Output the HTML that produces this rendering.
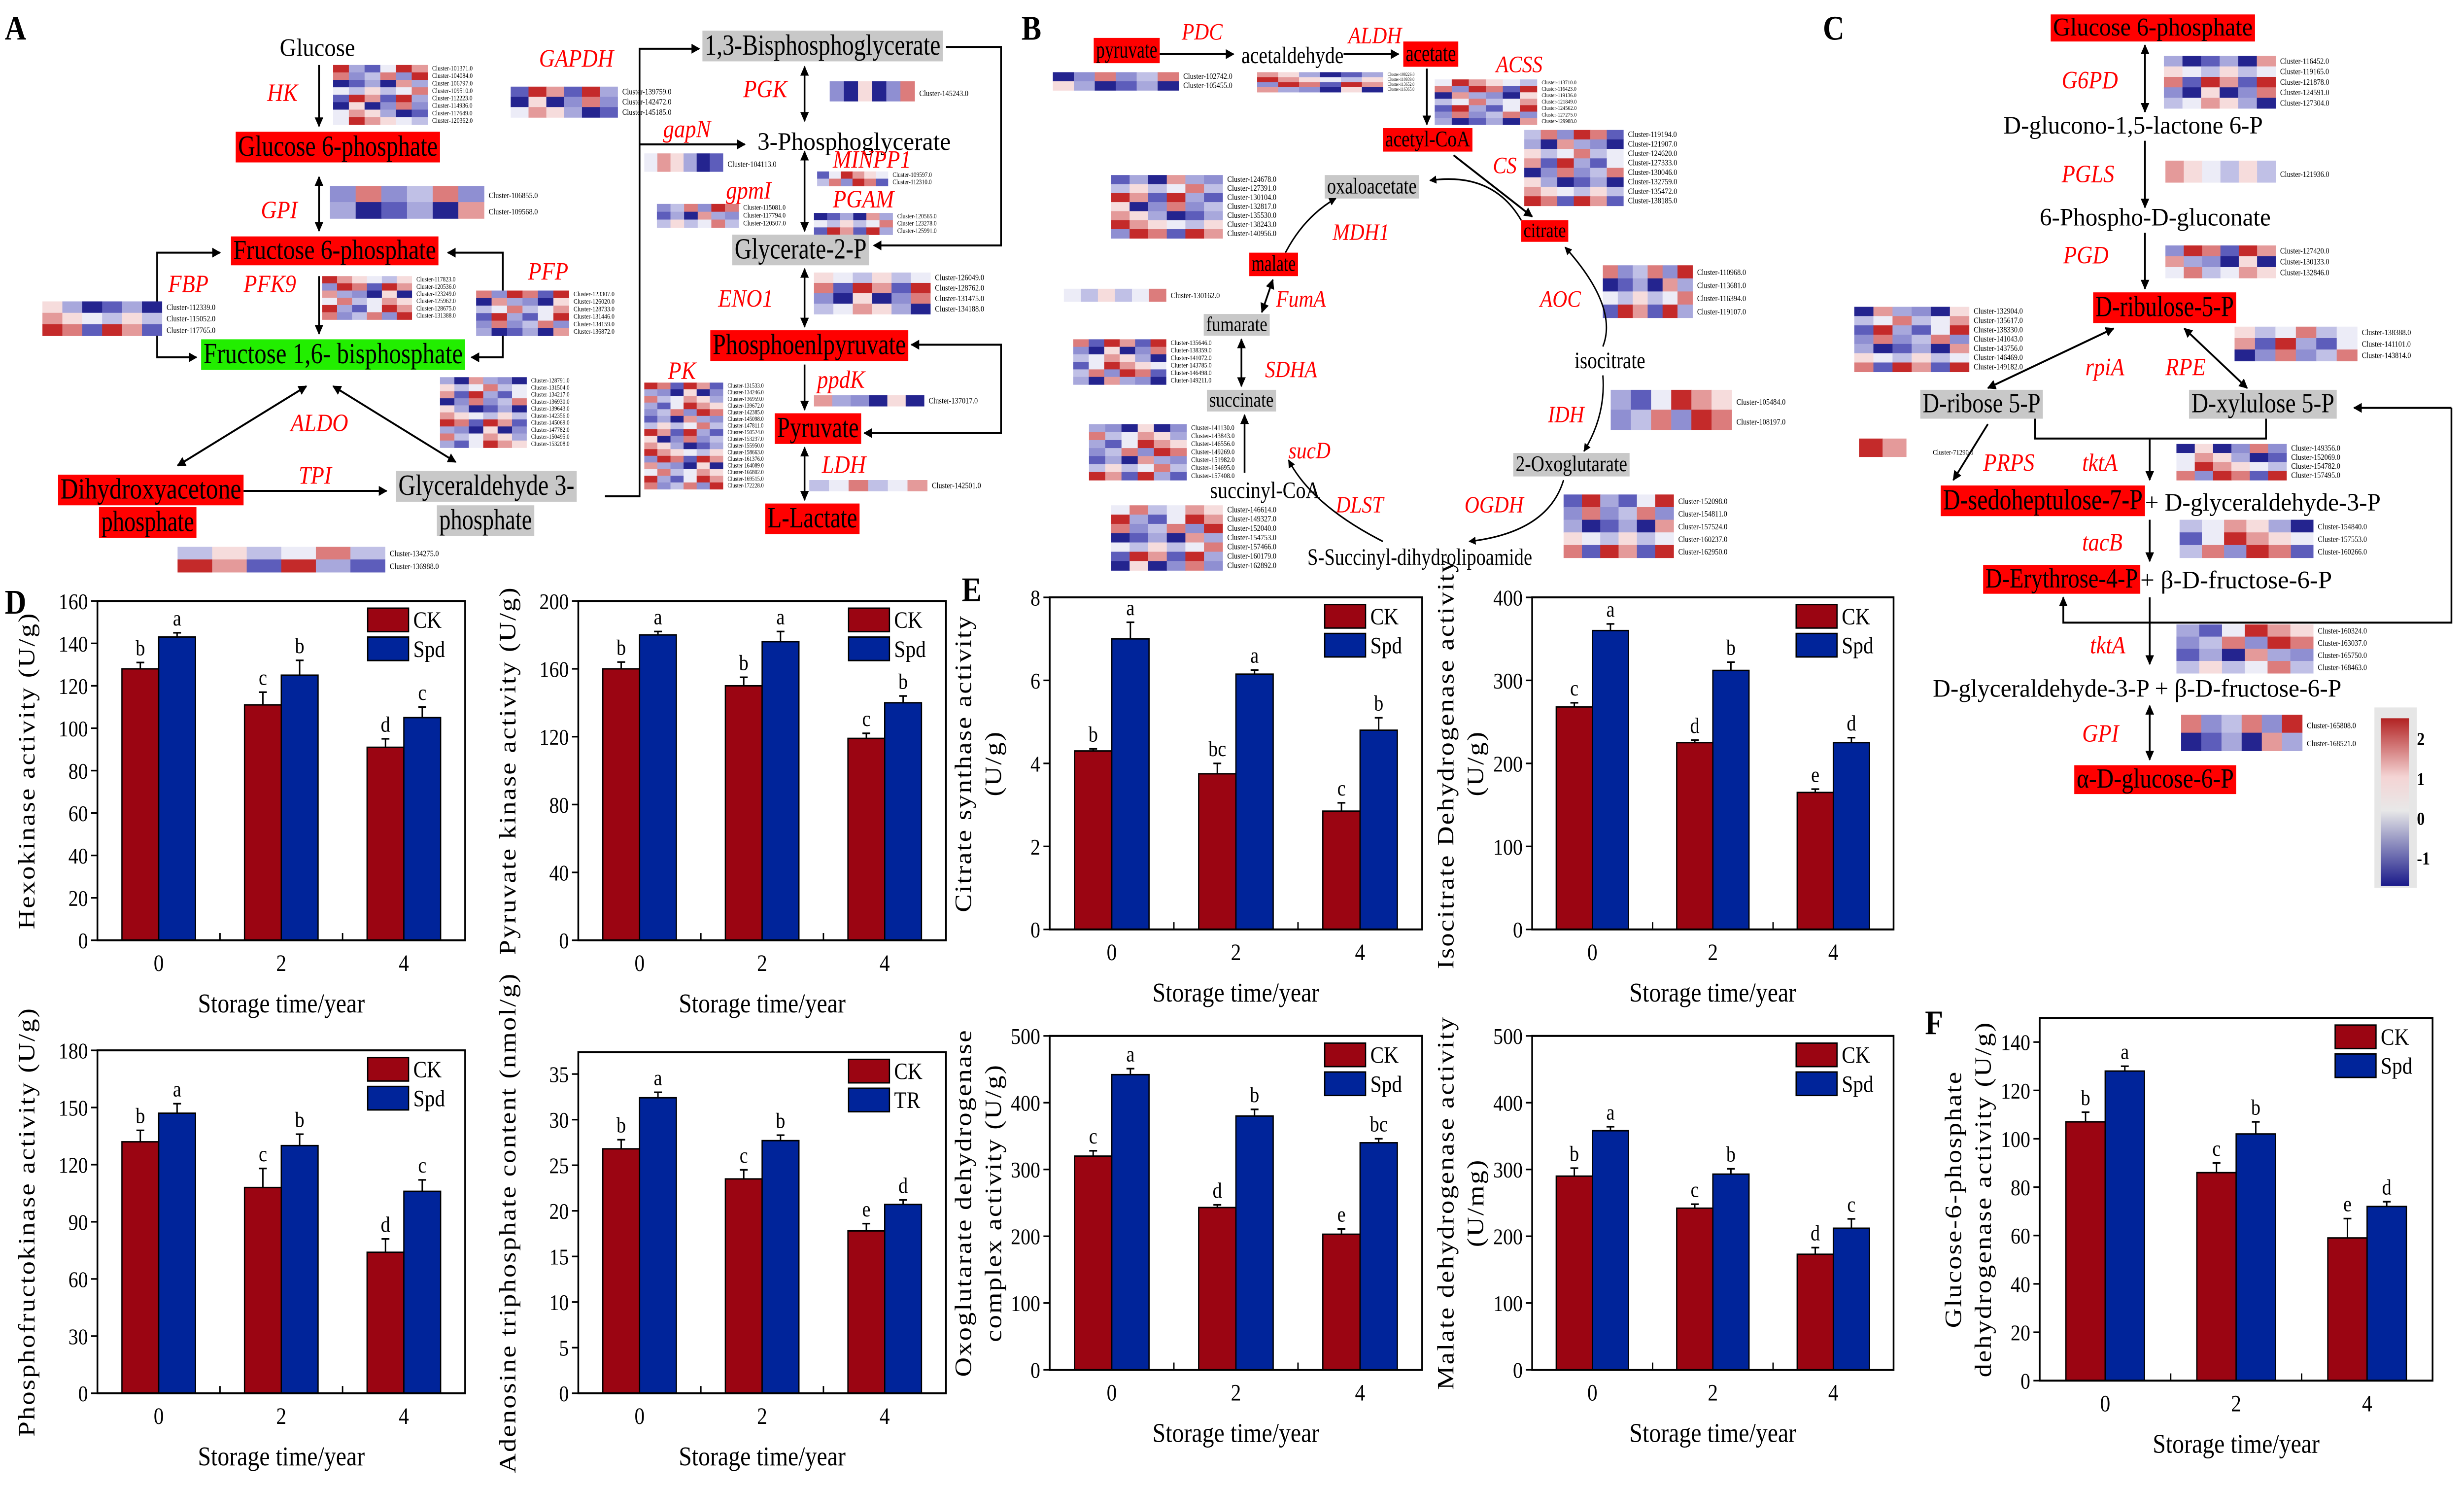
<!DOCTYPE html>
<html><head><meta charset="utf-8"><style>
html,body{margin:0;padding:0;background:#fff;width:100%;height:100%;overflow:hidden;}
svg{display:block;width:100vw;height:100vh;}
text{font-family:"Liberation Serif",serif;}
</style></head><body>
<svg id="fig" xmlns="http://www.w3.org/2000/svg" viewBox="0 0 1568 824.5" preserveAspectRatio="none">
<defs>
<marker id="ah" viewBox="0 0 10 10" refX="9" refY="5" markerWidth="5" markerHeight="5" orient="auto-start-reverse"><path d="M0,0L10,5L0,10z" fill="#000"/></marker>
<linearGradient id="cbar" x1="0" y1="0" x2="0" y2="1"><stop offset="0" stop-color="#b22222"/><stop offset="0.35" stop-color="#f4d4d4"/><stop offset="0.55" stop-color="#e8e8e8"/><stop offset="1" stop-color="#1a1a8a"/></linearGradient>
</defs>
<g id="pathways"></g>
<g id="charts"></g>
</svg>
<script>
// ---------- chart data ----------
const cats=['0','2','4'];
const hkCK=[128,111,91], hkSpd=[143,125,105], hkEC=[3,6,4], hkES=[2,7,5], hkLC=['b','c','d'], hkLS=['a','b','c'], hkTicks=[0,20,40,60,80,100,120,140,160];
const pkCK=[160,150,119], pkSpd=[180,176,140], pkEC=[4,5,3], pkES=[2,6,4], pkLC=['b','b','c'], pkLS=['a','a','b'], pkTicks=[0,40,80,120,160,200];
const pfkCK=[132,108,74], pfkSpd=[147,130,106], pfkEC=[6,10,7], pfkES=[5,6,6], pfkLC=['b','c','d'], pfkLS=['a','b','c'], pfkTicks=[0,30,60,90,120,150,180];
const atpCK=[26.8,23.5,17.8], atpSpd=[32.4,27.7,20.7], atpEC=[1.0,1.0,0.8], atpES=[0.6,0.6,0.5], atpLC=['b','c','e'], atpLS=['a','b','d'], atpTicks=[0,5,10,15,20,25,30,35];
const csCK=[4.3,3.75,2.85], csSpd=[7.0,6.15,4.8], csEC=[0.05,0.25,0.2], csES=[0.4,0.1,0.3], csLC=['b','bc','c'], csLS=['a','a','b'], csTicks=[0,2,4,6,8];
const idhCK=[268,225,165], idhSpd=[360,312,225], idhEC=[5,3,4], idhES=[8,10,6], idhLC=['c','d','e'], idhLS=['a','b','d'], idhTicks=[0,100,200,300,400];
const ogdhCK=[320,243,203], ogdhSpd=[442,380,340], ogdhEC=[8,4,8], ogdhES=[9,10,6], ogdhLC=['c','d','e'], ogdhLS=['a','b','bc'], ogdhTicks=[0,100,200,300,400,500];
const mdhCK=[290,242,173], mdhSpd=[358,293,212], mdhEC=[12,6,10], mdhES=[6,8,14], mdhLC=['b','c','d'], mdhLS=['a','b','c'], mdhTicks=[0,100,200,300,400,500];
const g6CK=[107,86,59], g6Spd=[128,102,72], g6EC=[4,4,8], g6ES=[2,5,2], g6LC=['b','c','e'], g6LS=['a','b','d'], g6Ticks=[0,20,40,60,80,100,120,140];

const NS='http://www.w3.org/2000/svg';
function mk(parent,tag,attrs,txt){const e=document.createElementNS(NS,tag);for(const k in attrs)e.setAttribute(k,attrs[k]);if(txt!==undefined)e.textContent=txt;parent.appendChild(e);return e;}
const charts=document.getElementById('charts');

function drawChart(name,L,R,T,B,ymax,ck,spd,ec,es,lc,ls,ticks,ytitle,leg2){
  const g=mk(charts,'g',{});
  
  
  const W=R-L;
  const y=v=>B-v/ymax*(B-T);
  const x=i=>L+W*(1/6+i/3);
  const bw=W*0.1;
  cats.forEach((c,i)=>{
    const cx=x(i);
    const b1=mk(g,'rect',{x:cx-bw,y:y(ck[i]),width:bw,height:B-y(ck[i]),fill:'#9b0512',stroke:'#000','stroke-width':0.8});
    
    
    const b2=mk(g,'rect',{x:cx,y:y(spd[i]),width:bw,height:B-y(spd[i]),fill:'#00249a',stroke:'#000','stroke-width':0.8});
    
    
    [[cx-bw/2,ck[i],ec[i],lc[i]],[cx+bw/2,spd[i],es[i],ls[i]]].forEach(([ex,v,e,l])=>{
      mk(g,'line',{x1:ex,x2:ex,y1:y(v),y2:y(v+e),stroke:'#000','stroke-width':0.9});
      mk(g,'line',{x1:ex-2.5,x2:ex+2.5,y1:y(v+e),y2:y(v+e),stroke:'#000','stroke-width':0.9});
      mk(g,'text',{x:ex,y:y(v+e)-4,'font-size':12,'text-anchor':'middle'},l);
    });
    mk(g,'text',{x:cx,y:B+17,'font-size':13,'text-anchor':'middle'},c);
    if(i<2) mk(g,'line',{x1:L+W*(i+1)/3,x2:L+W*(i+1)/3,y1:B,y2:B-4,stroke:'#000','stroke-width':0.9});
  });
  mk(g,'rect',{x:L,y:T,width:W,height:B-T,fill:'none',stroke:'#000','stroke-width':1.1});
  ticks.forEach(t=>{
    mk(g,'line',{x1:L,x2:L-4,y1:y(t),y2:y(t),stroke:'#000','stroke-width':0.9});
    mk(g,'text',{x:L-6,y:y(t)+4.5,'font-size':12.5,'text-anchor':'end'},t);
  });
  const xt=mk(g,'text',{x:(L+R)/2,y:B+40,'font-size':15,'text-anchor':'middle'},'Storage time/year');
  
  
  const yc=(T+B)/2;
  if(ytitle.length===1){
    const t=mk(g,'text',{x:0,y:0,'font-size':15,'text-anchor':'middle','letter-spacing':0.8,transform:`translate(${L-40},${yc}) rotate(-90)`},ytitle[0]);
    
    
  } else {
    ytitle.forEach((s,k)=>{
      const t=mk(g,'text',{x:0,y:0,'font-size':15,'text-anchor':'middle','letter-spacing':0.8,transform:`translate(${L-50+k*19},${yc}) rotate(-90)`},s);
      
      
    });
  }
  const lg=mk(g,'g',{});
  
  
  mk(lg,'rect',{x:R-62,y:T+4,width:26,height:13,fill:'#9b0512',stroke:'#000','stroke-width':0.8});
  mk(lg,'rect',{x:R-62,y:T+20,width:26,height:13,fill:'#00249a',stroke:'#000','stroke-width':0.8});
  mk(lg,'text',{x:R-33,y:T+15,'font-size':13},'CK');
  mk(lg,'text',{x:R-33,y:T+31,'font-size':13},leg2);
}
drawChart('hexokinase-chart',62,296,333,521,160,hkCK,hkSpd,hkEC,hkES,hkLC,hkLS,hkTicks,['Hexokinase activity (U/g)'],'Spd');
drawChart('pyruvate-kinase-chart',368,602,333,521,200,pkCK,pkSpd,pkEC,pkES,pkLC,pkLS,pkTicks,['Pyruvate kinase activity (U/g)'],'Spd');
drawChart('phosphofructokinase-chart',62,296,582,772,180,pfkCK,pfkSpd,pfkEC,pfkES,pfkLC,pfkLS,pfkTicks,['Phosphofructokinase activity (U/g)'],'Spd');
drawChart('atp-content-chart',368,602,583,772,37.4,atpCK,atpSpd,atpEC,atpES,atpLC,atpLS,atpTicks,['Adenosine triphosphate content (nmol/g)'],'TR');
drawChart('citrate-synthase-chart',668,905,331,515,8,csCK,csSpd,csEC,csES,csLC,csLS,csTicks,['Citrate synthase activity','(U/g)'],'Spd');
drawChart('isocitrate-dehydrogenase-chart',975,1205,331,515,400,idhCK,idhSpd,idhEC,idhES,idhLC,idhLS,idhTicks,['Isocitrate Dehydrogenase activity','(U/g)'],'Spd');
drawChart('oxoglutarate-dehydrogenase-chart',668,905,574,759,500,ogdhCK,ogdhSpd,ogdhEC,ogdhES,ogdhLC,ogdhLS,ogdhTicks,['Oxoglutarate dehydrogenase','complex activity (U/g)'],'Spd');
drawChart('malate-dehydrogenase-chart',975,1205,574,759,500,mdhCK,mdhSpd,mdhEC,mdhES,mdhLC,mdhLS,mdhTicks,['Malate dehydrogenase activity','(U/mg)'],'Spd');
drawChart('g6pdh-chart',1298,1548,564,765,150,g6CK,g6Spd,g6EC,g6ES,g6LC,g6LS,g6Ticks,['Glucose-6-phosphate','dehydrogenase activity (U/g)'],'Spd');

// ---------- pathways ----------
const P=document.getElementById('pathways');
const hmPalette=['#24248f','#5d5dbb','#8f8fd2','#c0c0e6','#ececf7','#f6dcdc','#e49a9a','#c42a2a','#a8a8dc','#dc7c7c'];
const hmPattern=[3,7,0,4,8,2,6,1,9,5,4,2,8,7,3,0,6,9,1,5,2,8,4,7,0,3,9,6,5,1,8,3,7,2,4,6,0,9,1,5];
function hm(name,x,y,w,h,cols,rows,seed,nl){
  const g=mk(P,'g',{});
  
  
  const cw=w/cols,rh=h/rows;
  for(let r=0;r<rows;r++)for(let c=0;c<cols;c++){
    const v=hmPattern[(r*7+c*3+seed)%hmPattern.length];
    mk(g,'rect',{x:x+c*cw,y:y+r*rh,width:cw+0.2,height:rh+0.2,fill:hmPalette[v]});
  }
  if(nl!==false){
    for(let r=0;r<rows;r++) mk(g,'text',{x:x+w+3,y:y+(r+0.75)*rh,'font-size':Math.min(4.5,rh*0.9),'font-family':'Liberation Sans'},'Cluster-'+(100000+seed*1371+r*2713)+'.0');
  }
}
function box(name,x,y,w,h,fill,label){
  const g=mk(P,'g',{});
  
  
  mk(g,'rect',{x:x,y:y,width:w,height:h,fill:fill});
  mk(g,'text',{x:x+1.5,y:y+h*0.78,'font-size':h*0.95,textLength:w-3,lengthAdjust:'spacingAndGlyphs'},label);
}
function txt(name,x,y,s,size,color,ital,len){
  const a={x:x,y:y,'font-size':size,fill:color||'#000'};
  if(ital)a['font-style']='italic';
  if(len){a.textLength=len;a.lengthAdjust='spacingAndGlyphs';}
  const t=mk(P,'text',a,s);
  
  
}
function ar(x1,y1,x2,y2,both){const a={x1:x1,y1:y1,x2:x2,y2:y2,stroke:'#000','stroke-width':1.1,'marker-end':'url(#ah)'};if(both)a['marker-start']='url(#ah)';mk(P,'line',a);}
function pl(pts,arrow){const a={points:pts,fill:'none',stroke:'#000','stroke-width':1.1};if(arrow)a['marker-end']='url(#ah)';mk(P,'polyline',a);}
function pa(d,arrow){const a={d:d,fill:'none',stroke:'#000','stroke-width':0.9};if(arrow)a['marker-end']='url(#ah)';mk(P,'path',a);}
const red='#ff0000',gray='#c8c8c8',grn='#22ee00';
const L=(n,x,y)=>{const t=mk(P,'text',{x:x,y:y,'font-size':19,'font-weight':'bold','font-family':'Liberation Sans'},n);};
L('A',3,22);L('B',650,22);L('C',1160,22);L('D',3,340);L('E',612,333);L('F',1225,573);

// Panel A
txt('glucose-label',178,31,'Glucose',14,'#000',false,48);
ar(203,36,203,70);txt('hk-label',170,56,'HK',14,red,true);hm('hk-heatmap',212,36,60,33,6,8,1);
box('glucose-6-phosphate-a',150,73,130,17,red,'Glucose 6-phosphate');
ar(203,98,203,128,true);txt('gpi-label',166,121,'GPI',14,red,true);hm('gpi-heatmap',210,103,98,18,6,2,5);
box('fructose-6-phosphate',147,131,132,16,red,'Fructose 6-phosphate');
pl('100,186 100,140 140,140',true);pl('320,186 320,140 285,140',true);
txt('fbp-label',107,162,'FBP',14,red,true);txt('pfk9-label',155,162,'PFK9',14,red,true);txt('pfp-label',336,155,'PFP',14,red,true);
hm('fbp-heatmap',27,167,76,19,6,3,9);hm('pfk9-heatmap',205,153,57,24,6,6,13);hm('pfp-heatmap',303,161,59,25,6,6,17);
ar(203,153,203,185);pl('100,186 100,198 125,198',true);pl('320,186 320,198 300,198',true);
box('fructose-16-bisphosphate',128,188,168,17,grn,'Fructose 1,6- bisphosphate');
hm('aldo-heatmap',280,209,55,39,6,10,21);
mk(P,'line',{x1:195,y1:214,x2:113,y2:258,stroke:'#000','stroke-width':1.1,'marker-start':'url(#ah)','marker-end':'url(#ah)'});mk(P,'line',{x1:212,y1:214,x2:290,y2:256,stroke:'#000','stroke-width':1.1,'marker-start':'url(#ah)','marker-end':'url(#ah)'});
txt('aldo-label',185,239,'ALDO',14,red,true);
box('dihydroxyacetone-phosphate',37,263,118,17,red,'Dihydroxyacetone');box('dihydroxyacetone-phosphate-2',63,281,62,17,red,'phosphate');
ar(155,272,246,272);txt('tpi-label',190,268,'TPI',14,red,true);
box('glyceraldehyde-3-phosphate',252,261,115,17,gray,'Glyceraldehyde 3-');box('glyceraldehyde-3-phosphate-2',278,280,62,17,gray,'phosphate');
hm('tpi-heatmap',113,303,132,14,6,2,25);
pl('385,275 407,275 407,27 445,27',true);ar(407,80,474,80);
txt('gapdh-label',343,37,'GAPDH',14,red,true);hm('gapdh-heatmap',325,48,68,17,6,3,29);
box('13-bisphosphoglycerate',447,17,153,17,gray,'1,3-Bisphosphoglycerate');
txt('gapn-label',422,76,'gapN',14,red,true);txt('3-phosphoglycerate',482,83,'3-Phosphoglycerate',14,'#000',false,123);
ar(512,37,512,67,true);txt('pgk-label',473,54,'PGK',14,red,true);hm('pgk-heatmap',528,45,54,11,6,1,33);
hm('gapn-heatmap',410,85,50,10,6,1,3);txt('minpp1-label',530,93,'MINPP1',14,red,true);hm('minpp1-heatmap',520,95,45,8,6,2,7);
txt('gpmi-label',462,110,'gpmI',14,red,true);hm('gpmi-heatmap',418,113,52,13,6,3,11);
txt('pgam-label',530,115,'PGAM',14,red,true);hm('pgam-heatmap',518,118,50,12,6,3,15);
ar(512,84,512,128,true);
box('glycerate-2-p',466,130,87,17,gray,'Glycerate-2-P');
pl('602,26 637,26 637,136 556,136',true);
ar(512,149,512,181,true);txt('eno1-label',457,170,'ENO1',14,red,true);hm('eno1-heatmap',518,151,74,23,6,4,19);
box('phosphoenolpyruvate',452,183,126,17,red,'Phosphoenlpyruvate');
pl('550,240 637,240 637,191 580,191',true);mk(P,'line',{x1:560,y1:240,x2:550,y2:240,stroke:'#000','stroke-width':1.1,'marker-end':'url(#ah)'});
txt('pk-label',425,210,'PK',14,red,true);hm('pk-heatmap',410,212,50,59,6,16,23);
txt('ppdk-label',520,215,'ppdK',14,red,true);hm('ppdk-heatmap',518,219,70,6,6,1,27);
ar(512,202,512,227);
box('pyruvate-a',493,229,55,17,red,'Pyruvate');
ar(512,248,512,277,true);txt('ldh-label',523,262,'LDH',14,red,true);hm('ldh-heatmap',515,266,75,6,6,1,31);
box('l-lactate',487,279,60,17,red,'L-Lactate');

// Panel B
box('pyruvate-b',696,21,42,14,red,'pyruvate');
ar(738,30,785,30);txt('pdc-label',752,22,'PDC',13,red,true);
txt('acetaldehyde',790,35,'acetaldehyde',13,'#000',false,65);
ar(855,30,890,30);txt('aldh-label',858,24,'ALDH',13,red,true);
box('acetate',893,23,35,14,red,'acetate');
txt('acss-label',952,40,'ACSS',13,red,true);
hm('pdc-heatmap',670,40,80,10,6,2,2);hm('aldh-heatmap',800,40,80,11,6,4,6);hm('acss-heatmap',913,44,65,25,6,7,10);
ar(908,38,908,69);
box('acetyl-coa',880,71,57,13,red,'acetyl-CoA');
txt('cs-label',950,96,'CS',13,red,true);hm('cs-heatmap',970,72,63,42,6,8,14);
ar(925,86,975,120);
box('citrate',968,122,30,12,red,'citrate');
box('oxaloacetate',843,97,60,13,gray,'oxaloacetate');
pa('M968,122 Q950,95 910,100',true);
txt('mdh1-label',848,133,'MDH1',13,red,true);hm('mdh1-heatmap',707,97,71,35,6,7,18);
pa('M818,140 Q830,120 850,110',true);
box('malate',795,140,31,13,red,'malate');
txt('fuma-label',812,170,'FumA',13,red,true);hm('fuma-heatmap',677,160,65,7,6,1,22);
ar(803,173,810,155,true);
box('fumarate',766,174,42,12,gray,'fumarate');
txt('sdha-label',805,209,'SDHA',13,red,true);hm('sdha-heatmap',683,188,59,25,6,6,26);
ar(790,188,790,214,true);
box('succinate',768,216,44,12,gray,'succinate');
txt('sucd-label',820,254,'sucD',13,red,true);hm('sucd-heatmap',693,235,62,31,6,7,30);
ar(792,262,792,230);
txt('succinyl-coa',770,276,'succinyl-CoA',13,'#000',false,70);
txt('dlst-label',850,284,'DLST',13,red,true);hm('dlst-heatmap',707,280,71,36,6,7,34);
pa('M880,300 Q835,280 820,255',true);
txt('s-succinyl-dihydrolipoamide',832,313,'S-Succinyl-dihydrolipoamide',13,'#000',false,143);
txt('ogdh-label',932,284,'OGDH',13,red,true);hm('ogdh-heatmap',995,274,70,35,6,5,38);
pa('M995,266 Q985,295 935,300',true);
box('2-oxoglutarate',963,251,74,13,gray,'2-Oxoglutarate');
txt('idh-label',985,234,'IDH',13,red,true);hm('idh-heatmap',1025,216,77,22,6,2,4);
pa('M1020,208 Q1022,230 1008,250',true);
txt('isocitrate',1002,204,'isocitrate',13,'#000',false,45);
txt('aoc-label',980,170,'AOC',13,red,true);hm('aoc-heatmap',1020,147,57,29,6,4,8);
pa('M1020,192 Q1030,170 996,137',true);

// Panel C
box('glucose-6-phosphate-c',1305,8,130,15,red,'Glucose 6-phosphate');
ar(1365,25,1365,62,true);txt('g6pd-label',1312,49,'G6PD',14,red,true);hm('g6pd-heatmap',1377,31,71,29,6,5,12);
txt('d-glucono-lactone',1275,74,'D-glucono-1,5-lactone 6-P',14,'#000',false,165);
ar(1365,78,1365,115);txt('pgls-label',1312,101,'PGLS',14,red,true);hm('pgls-heatmap',1378,89,70,12,6,1,16);
txt('6-phospho-d-gluconate',1298,125,'6-Phospho-D-gluconate',14,'#000',false,147);
ar(1365,129,1365,160);txt('pgd-label',1313,146,'PGD',14,red,true);hm('pgd-heatmap',1378,136,70,18,6,3,20);
box('d-ribulose-5-p',1332,162,91,17,red,'D-ribulose-5-P');
hm('rpia-heatmap',1180,170,73,36,6,7,24);hm('rpe-heatmap',1422,181,78,19,6,3,28);
ar(1345,182,1265,215,true);ar(1390,182,1430,215,true);
txt('rpia-label',1327,208,'rpiA',14,red,true);txt('rpe-label',1378,208,'RPE',14,red,true);
box('d-ribose-5-p',1222,216,78,16,gray,'D-ribose 5-P');box('d-xylulose-5-p',1393,216,94,16,gray,'D-xylulose 5-P');
ar(1560,226,1498,226);pl('1560,226 1560,345 1313,345 1313,331',true);
pl('1295,232 1295,243 1442,243 1442,232');ar(1368,243,1368,266);
hm('prps-heatmap',1183,243,30,10,2,1,32,false);txt('cluster-71290',1230,252,'Cluster-71290.0',4,'#000');
ar(1265,235,1243,266);
txt('prps-label',1262,261,'PRPS',14,red,true);txt('tkta-label-1',1325,261,'tktA',14,red,true);hm('tkta-heatmap-1',1385,246,70,20,6,4,36);
box('d-sedoheptulose-7-p',1235,269,130,17,red,'D-sedoheptulose-7-P');
txt('d-glyceraldehyde-3-p-1',1365,283,'+ D-glyceraldehyde-3-P',14,'#000',false,150);
ar(1368,288,1368,311);txt('tacb-label',1325,305,'tacB',14,red,true);hm('tacb-heatmap',1387,288,85,21,6,3,40);
box('d-erythrose-4-p',1262,313,100,16,red,'D-Erythrose-4-P');
txt('b-d-fructose-6-p-1',1362,326,'+ β-D-fructose-6-P',14,'#000',false,122);
ar(1368,331,1368,368);txt('tkta-label-2',1330,362,'tktA',14,red,true);hm('tkta-heatmap-2',1385,346,87,27,6,4,44);
txt('d-glyceraldehyde-fructose',1230,386,'D-glyceraldehyde-3-P + β-D-fructose-6-P',14,'#000',false,260);
ar(1368,391,1368,421,true);txt('gpi-label-c',1325,411,'GPI',14,red,true);hm('gpi-heatmap-c',1388,396,77,20,6,2,48);
box('alpha-d-glucose-6-p',1320,424,103,16,red,'α-D-glucose-6-P');
const cb=mk(P,'g',{});


mk(cb,'rect',{x:1511,y:392,width:27,height:100,fill:'#e6e6e6'});
mk(cb,'rect',{x:1515,y:398,width:18,height:93,fill:'url(#cbar)'});
[['2',413],['1',435],['0',457],['-1',479]].forEach(([s,yy])=>mk(cb,'text',{x:1538,y:yy,'font-size':10,'font-family':'Liberation Sans','font-weight':'bold'},s));
</script>
</body></html>
